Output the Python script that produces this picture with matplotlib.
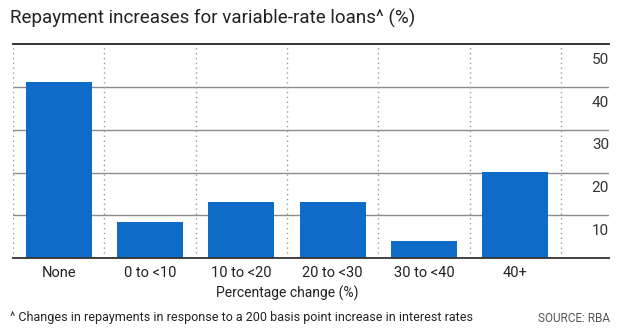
import matplotlib
matplotlib.use("Agg")
import matplotlib.pyplot as plt

categories = ["None", "0 to <10", "10 to <20", "20 to <30", "30 to <40", "40+"]
values = [41.2, 8.4, 13.1, 13.1, 4.0, 20.1]
yticks = [10, 20, 30, 40, 50]

plt.rcParams['font.family'] = ['Roboto', 'DejaVu Sans']

W, H = 620, 332
fig = plt.figure(figsize=(W/100, H/100), dpi=100)
L, R, T, B = 13, 609, 44.5, 258
ax = fig.add_axes([L/W, 1 - B/H, (R-L)/W, (B-T)/H])

n = len(categories)
slot = (561 - 13) / n
xmax = (R - L) / slot - 0.5
ax.set_xlim(-0.5, xmax)
ax.set_ylim(0, 50)

for y in yticks[:-1]:
    ax.axhline(y, color="#8c8c8c", lw=1, zorder=1)
ax.axhline(50, color="#222222", lw=1.3, zorder=3, clip_on=False)
ax.axhline(0, color="#333333", lw=1.3, zorder=3, clip_on=False)
for i in range(n + 1):
    ax.axvline(i - 0.5, color="#999999", lw=1, ls=(0, (1, 2.5)), zorder=1)

ax.bar(range(n), values, width=0.72, color="#0f6bc8", zorder=2)

for s in ax.spines.values():
    s.set_visible(False)
ax.set_xticks(range(n))
ax.set_xticklabels(categories, fontsize=10.5, color="#222222")
ax.tick_params(axis="x", length=0, pad=6)
ax.set_yticks([])

for y in yticks:
    ax.annotate(str(y), xy=(1.0, y), xycoords=("axes fraction", "data"),
                xytext=(0, -6), textcoords="offset points",
                ha="right", va="top", fontsize=11, color="#333333")

cx = (13 + 561) / 2 / W
fig.text(cx, 1 - 293/H, "Percentage change (%)", ha="center", va="center",
         fontsize=10, color="#222222")
fig.text(10/W, 1 - 18/H, "Repayment increases for variable-rate loans^ (%)",
         ha="left", va="center", fontsize=13.5, color="#222222")
fig.text(10/W, 1 - 318/H,
         "^ Changes in repayments in response to a 200 basis point increase in interest rates",
         ha="left", va="center", fontsize=9, color="#222222")
fig.text(610/W, 1 - 318/H, "SOURCE: RBA", ha="right", va="center",
         fontsize=8.5, color="#555555")

fig.savefig("out.png", dpi=100)
